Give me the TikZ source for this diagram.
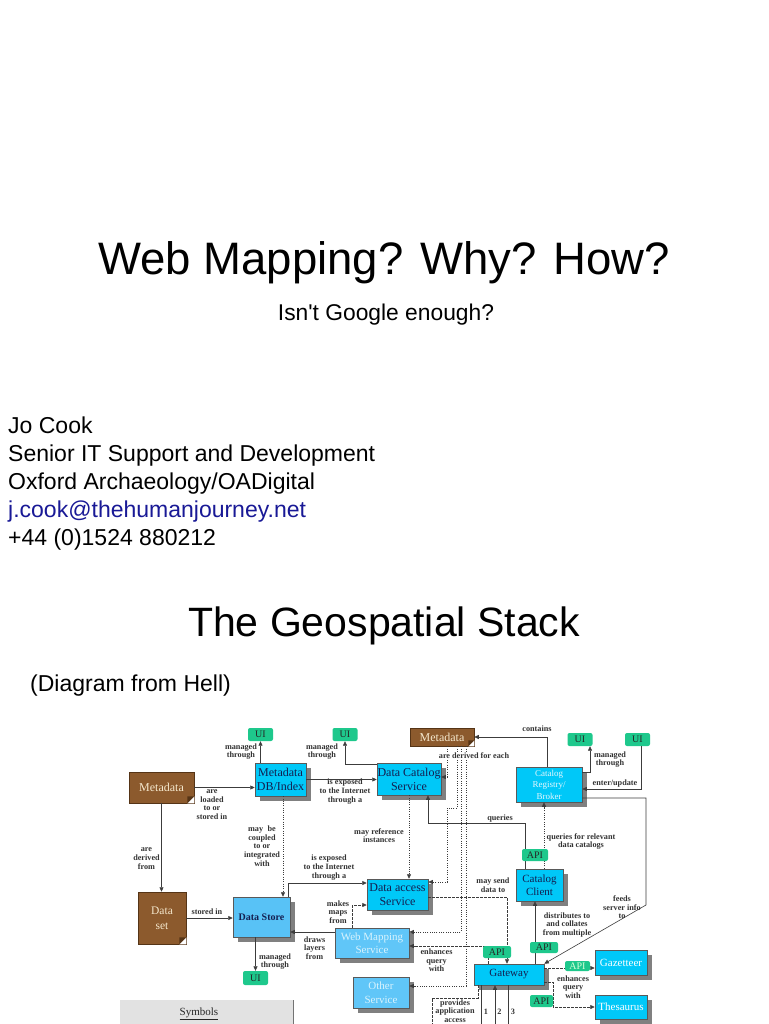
\documentclass[tikz,border=0pt]{standalone}
\usepackage{fontspec}
\setmainfont{Liberation Serif}
\newfontfamily\arialf{Liberation Sans}
\usetikzlibrary{arrows.meta,shadows,calc}
\definecolor{boxcyan}{RGB}{0,200,248}
\definecolor{storeblue}{RGB}{88,194,246}
\definecolor{wmsblue}{RGB}{96,198,248}
\definecolor{mdbrown}{RGB}{140,90,45}
\definecolor{mdbrowndark}{RGB}{85,52,22}
\definecolor{apigreen}{RGB}{30,200,140}
\definecolor{navy}{RGB}{20,30,80}
\definecolor{cream}{RGB}{245,232,205}
\definecolor{linegray}{RGB}{60,60,60}
\definecolor{maillink}{RGB}{25,25,150}
\definecolor{symgray}{RGB}{226,226,226}
\begin{document}
\begin{tikzpicture}[x=1pt,y=-1pt,
  box/.style={draw=black!65, line width=0.5pt, inner sep=0pt, align=center,
    drop shadow={shadow xshift=4.5pt,shadow yshift=-4.5pt,fill=black!50,opacity=1}},
  cyanbox/.style={box, fill=boxcyan, text=navy, font=\fontsize{12}{14}\selectfont},
  lightbox/.style={box, fill=wmsblue, text=white!85!cyan, font=\fontsize{11}{13.5}\selectfont},
  brownbox/.style={draw=mdbrowndark, line width=0.5pt, fill=mdbrown, text=cream, inner sep=0pt, align=center, font=\fontsize{12}{14}\selectfont},
  ui/.style={fill=apigreen, rounded corners=2pt, inner sep=0pt, text=black!85, font=\fontsize{10}{10}\selectfont, minimum width=25, minimum height=13},
  api/.style={fill=apigreen, rounded corners=2pt, inner sep=0pt, text=black!85, font=\fontsize{10}{10}\selectfont, minimum height=12},
  lbl/.style={font=\bfseries\fontsize{8.2}{8.6}\selectfont, text=black!80, align=center, inner sep=0.5pt},
  arr/.style={draw=linegray, line width=0.6pt, -{Triangle[length=4.5pt,width=4pt]}},
  plain/.style={draw=linegray, line width=0.6pt},
  dotarr/.style={arr, dash pattern=on 1pt off 1.3pt},
  dasharr/.style={arr, dash pattern=on 2.5pt off 1.5pt},
  dashln/.style={plain, dash pattern=on 2.5pt off 1.5pt},
  ttl/.style={inner sep=0pt, text=black}
]
\useasboundingbox (0,0) rectangle (768,1024);
\fill[white] (0,0) rectangle (768,1024);

% slide text
\node[ttl, anchor=base, font=\arialf\fontsize{45.5}{50}\selectfont] (title) at (384,274) {Web Mapping? Why? How?};
\node[ttl, anchor=base, font=\arialf\fontsize{22.8}{26}\selectfont] (subtitle) at (386,320) {Isn't Google enough?};
\node[ttl, anchor=base west, font=\arialf\fontsize{23}{26}\selectfont] (jo) at (8,433) {Jo Cook};
\node[ttl, anchor=base west, font=\arialf\fontsize{23}{26}\selectfont] (role) at (8,461) {Senior IT Support and Development};
\node[ttl, anchor=base west, font=\arialf\fontsize{23}{26}\selectfont] (org) at (8,489) {Oxford Archaeology/OADigital};
\node[ttl, anchor=base west, text=maillink, font=\arialf\fontsize{23}{26}\selectfont] (mail) at (8,517) {j.cook@thehumanjourney.net};
\node[ttl, anchor=base west, font=\arialf\fontsize{23}{26}\selectfont] (tel) at (8,545) {+44 (0)1524 880212};
\node[ttl, anchor=base, font=\arialf\fontsize{41}{45}\selectfont] (title2) at (384,636) {The Geospatial Stack};
\node[ttl, anchor=base west, font=\arialf\fontsize{23}{26}\selectfont] (hell) at (30,691) {(Diagram from Hell)};

% boxes
\node[ui] (ui1) at (260.5,734.5) {UI};
\node[ui] (ui2) at (345,734.5) {UI};
\node[brownbox, minimum width=64, minimum height=18] (mdtop) at (442,737) {Metadata};
\node[ui] (ui3) at (580,739.5) {UI};
\node[ui] (ui4) at (637.5,739.5) {UI};
\node[brownbox, minimum width=65, minimum height=31] (mdleft) at (161.5,787.5) {Metadata};
\node[cyanbox, minimum width=51, minimum height=33] (mdb) at (280.5,779.5) {Metadata\\DB/Index};
\node[cyanbox, minimum width=64, minimum height=32] (dcs) at (409,779) {Data Catalog\\Service};
\node[cyanbox, minimum width=66, minimum height=35, text=white!90!cyan, font=\fontsize{9}{11.5}\selectfont] (crb) at (549,784.5) {Catalog\\Registry/\\Broker};
\node[brownbox, minimum width=48, minimum height=52, font=\fontsize{11.5}{15}\selectfont] (dataset) at (162,918) {Data\\set};
\node[cyanbox, fill=storeblue, minimum width=57, minimum height=40, font=\bfseries\fontsize{10}{12}\selectfont] (dstore) at (261.5,917) {Data Store};
\node[cyanbox, minimum width=61, minimum height=31] (das) at (397.5,894.5) {Data access\\Service};
\node[cyanbox, minimum width=47, minimum height=32, font=\fontsize{11}{13}\selectfont] (cc) at (539.5,885) {Catalog\\Client};
\node[lightbox, minimum width=74, minimum height=30] (wms) at (372,943) {Web Mapping\\Service};
\node[ui, minimum height=14] (ui5) at (255.5,978) {UI};
\node[lightbox, minimum width=56, minimum height=31] (os) at (381,992.5) {Other\\Service};
\node[cyanbox, minimum width=70, minimum height=21, font=\fontsize{11}{13}\selectfont] (gw) at (509,974.5) {Gateway};
\node[cyanbox, text=white, minimum width=52, minimum height=25, font=\fontsize{11}{13}\selectfont] (gaz) at (621,962.5) {Gazetteer};
\node[cyanbox, text=white, minimum width=52, minimum height=24, font=\fontsize{11}{13}\selectfont] (thes) at (621,1007) {Thesaurus};

% folded corners of document shapes
\fill[white] (mdleft.south east) -- ++(-7,0) -- ++(7,-7) -- cycle;
\fill[mdbrowndark] ($(mdleft.south east)+(-7,0)$) -- ++(0,-7) -- ++(7,0) -- cycle;
\fill[white] (dataset.south east) -- ++(-7,0) -- ++(7,-7) -- cycle;
\fill[mdbrowndark] ($(dataset.south east)+(-7,0)$) -- ++(0,-7) -- ++(7,0) -- cycle;
\fill[white] (mdtop.south east) -- ++(-6,0) -- ++(6,-6) -- cycle;
\fill[mdbrowndark] ($(mdtop.south east)+(-6,0)$) -- ++(0,-6) -- ++(6,0) -- cycle;

% connectors
\draw[arr] (mdb.north -| ui1.south) -- (ui1.south);
\draw[arr] ($(dcs.north west)+(0,2)$) -| (ui2.south);
\draw[arr] (mdleft.east) -- (mdleft.east -| mdb.west);
\draw[arr] (mdb.east) -- (mdb.east -| dcs.west);
\draw[arr] (mdleft.south) -- (mdleft.south |- dataset.north);
\draw[arr] (dataset.east) -- (dataset.east -| dstore.west);
\draw[dotarr] ($(mdb.south)+(2.5,0)$) coordinate (c7) -- (c7 |- dstore.north);
\draw[arr] ($(dstore.north east)+(-2,0)$) |- ($(das.west)+(0,-11.5)$);
\draw[dotarr] (dcs.south) -- (dcs.south |- das.north);
\draw[dotarr] ($(mdtop.south)+(5,0)$) |- ($(dcs.east)+(0,-2)$);
\draw[dotarr] ($(mdtop.south)+(15,0)$) |- (447,808) |- ($(das.east)+(0,-12.5)$);
\draw[dotarr] ($(mdtop.south)+(19,0)$) |- ($(wms.east)+(0,-11)$);
\draw[dotarr] ($(mdtop.south)+(24,0)$) |- ($(os.east)+(0,-6.5)$);
\draw[arr] ($(crb.north)+(-2,0)$) |- (mdtop.east);
\draw[arr] ($(crb.east)+(0,-12.5)$) -| ($(ui3.south)+(10,0)$);
\draw[arr] ($(ui4.south)+(4,0)$) |- ($(crb.east)+(0,4.5)$);
\draw[arr] ($(crb.east)+(0,13.5)$) -| (646,905) -- (gw.north east);
\draw[arr] ($(cc.north)+(-14.5,0)$) |- ($(dcs.south)+(19,28)$) -- ($(dcs.south)+(19,0)$);
\draw[dotarr] ($(cc.north)+(4.5,0)$) -- ($(crb.south)+(-5,0)$);
\draw[arr] ($(gw.north)+(26,0)$) -- ($(cc.south)+(-4.5,0)$);
\draw[dasharr] ($(das.east)+(0,2.5)$) -| ($(gw.north)+(-2,0)$);
\draw[dasharr] ($(gw.north)+(-21,0)$) |- ($(wms.east)+(0,3)$);
\draw[dasharr] ($(wms.north west)+(18,0)$) |- ($(das.west)+(0,10.5)$);
\draw[arr] ($(wms.west)+(0,-11)$) coordinate (c21) -- (c21 -| dstore.east);
\draw[arr] (dstore.south -| ui5.north) -- (ui5.north);
\draw[dasharr] ($(gw.east)+(0,-6.5)$) coordinate (c23) -- (c23 -| gaz.west);
\draw[dasharr] ($(gw.east)+(0,7.5)$) -- ++(9,0) |- (thes.west);
\draw[plain] ($(gw.south)+(-28,0)$) -- ++(0,40);
\draw[arr] ($(gw.south)+(-14,40)$) -- ($(gw.south)+(-14,0)$);
\draw[plain] ($(gw.south)+(-1,0)$) -- ++(0,40);
\draw[dashln] ($(gw.south)+(-31,0)$) |- (432,998) -- (432,1024);

% API tags (over the lines)
\node[api, minimum width=26] (api1) at (535,855) {API};
\node[api, minimum width=28] (api2) at (497,952) {API};
\node[api, minimum width=28, minimum height=11] (api3) at (544,947.5) {API};
\node[api, minimum width=25, minimum height=10, text=white!85!green] (api4) at (577.5,966) {API};
\node[api, minimum width=23] (api5) at (541.5,1001) {API};

% labels
\node[lbl] (l1) at (241,751.5) {managed\\through};
\node[lbl] (l2) at (322,751.5) {managed\\through};
\node[lbl] (l3) at (610,759.5) {managed\\through};
\node[lbl] (l4) at (615,784) {enter/update};
\node[lbl] (l5) at (537,729) {contains};
\node[lbl, fill=white] (l6) at (474,756) {are derived for each};
\node[lbl] (l7) at (212,804.5) {are\\loaded\\to or\\stored in};
\node[lbl] (l8) at (345,791.5) {is exposed\\to the Internet\\through a};
\node[lbl] (l9) at (262,846) {may\hspace{0.3em} be\\coupled\\to or\\integrated\\with};
\node[lbl] (l10) at (379,835.5) {may reference\\instances};
\node[lbl] (l11) at (500,818.5) {queries};
\node[lbl] (l12) at (581,841.5) {queries for relevant\\data catalogs};
\node[lbl] (l13) at (146.5,858.5) {are\\derived\\from};
\node[lbl] (l14) at (207,912) {stored in};
\node[lbl] (l15) at (329,867.5) {is exposed\\to the Internet\\through a};
\node[lbl] (l16) at (493,885) {may send\\data to};
\node[lbl] (l17) at (338,912) {makes\\maps\\from};
\node[lbl] (l18) at (314.5,948) {draws\\layers\\from};
\node[lbl] (l19) at (275,961.5) {managed\\through};
\node[lbl] (l20) at (436.5,960.5) {enhances\\query\\with};
\node[lbl] (l21) at (567,925) {distributes to\\and collates\\from multiple};
\node[lbl] (l22) at (622,907.5) {feeds\\server info\\to};
\node[lbl] (l23) at (573,987) {enhances\\query\\with};
\node[lbl] (l24) at (455,1011) {provides\\application\\access};
\node[lbl] (n1) at (486,1012) {1};
\node[lbl] (n2) at (499.5,1012) {2};
\node[lbl] (n3) at (513,1012) {3};

% symbols panel
\node[fill=symgray, anchor=north west, minimum width=173, minimum height=24, inner sep=0pt] (symbox) at (120,1000) {};
\draw[black!55, line width=1.5pt] (symbox.north east) -- (symbox.south east);
\node[inner sep=0pt, font=\fontsize{11}{11}\selectfont, text=black!85] (symtxt) at (199,1014) {\underline{Symbols}};
\end{tikzpicture}
\end{document}
